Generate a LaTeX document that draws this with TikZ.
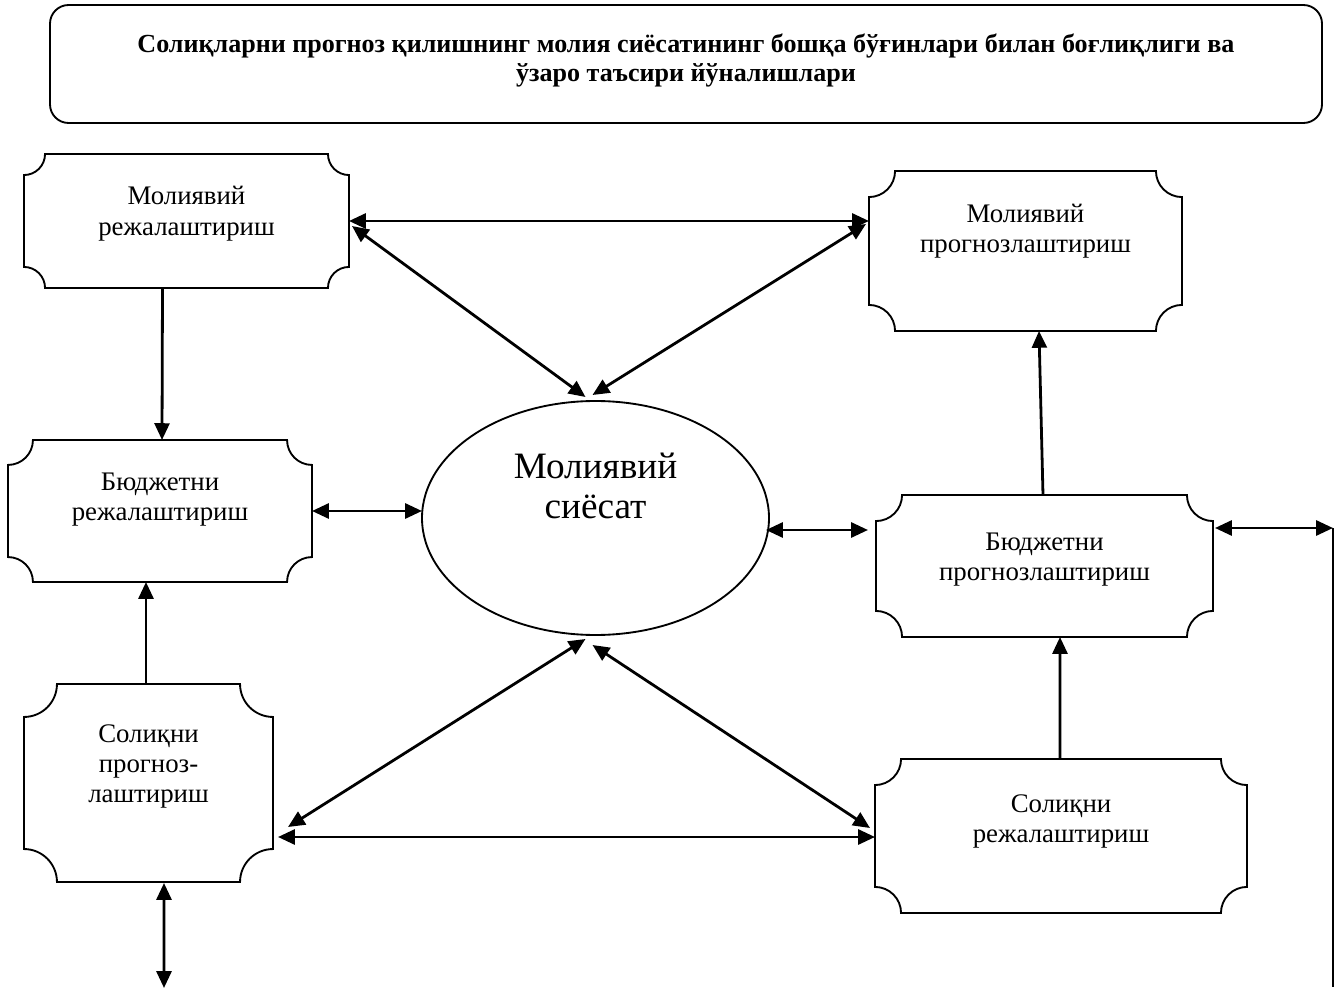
\documentclass[tikz,border=0pt]{standalone}
\usepackage{fontspec}
\setmainfont{Liberation Serif}
\usetikzlibrary{arrows.meta,shapes.geometric,calc}

\tikzset{
	every node/.style={outer sep=0pt},
	plaque/.style n args={3}{rectangle, inner sep=0pt, align=center,
		minimum width=#1*\px, minimum height=#2*\px, text depth=#3,
		font=\fontsize{14.4}{16.2}\selectfont},
	link/.style={line width=1.5pt, {Triangle[length=9pt,width=8pt]}-{Triangle[length=9pt,width=8pt]}},
	feed/.style={line width=1.5pt, -{Triangle[length=9pt,width=8pt]}}
}

\begin{document}
\begin{tikzpicture}[x=.537pt,y=-.537pt]
	\def\px{.537pt}
	\useasboundingbox (0,0) rectangle (1342,991);

	\node[rectangle, draw, line width=1pt, rounded corners=10pt, align=center,
		minimum width=1272*\px, minimum height=118*\px, text depth=6.5pt,
		font=\fontsize{14}{15.6}\selectfont\bfseries] (title) at (686,64)
		{Солиқларни прогноз қилишнинг молия сиёсатининг бошқа бўғинлари билан боғлиқлиги ва\\ўзаро таъсири йўналишлари};

	\node[plaque={325}{134}{11pt}] (mr) at (186.5,221) {Молиявий\\режалаштириш};
	\node[plaque={313}{160}{24pt}] (mp) at (1025.5,251) {Молиявий\\прогнозлаштириш};
	\node[plaque={304}{142}{15pt}] (br) at (160,511) {Бюджетни\\режалаштириш};
	\node[plaque={337}{142}{10pt}] (bp) at (1044.5,566) {Бюджетни\\прогнозлаштириш};
	\node[plaque={249}{198}{21pt}] (sp) at (148.5,783) {Солиқни\\прогноз-\\лаштириш};
	\node[plaque={372}{154}{19pt}] (sr) at (1061,836) {Солиқни\\режалаштириш};

	\node[ellipse, draw, line width=1pt, inner sep=0pt, align=center,
		minimum width=347*\px, minimum height=234*\px, text depth=35pt,
		font=\fontsize{20}{21.5}\selectfont] (ms) at (595.5,518) {Молиявий\\сиёсат};

	% plaque outlines, corners cut inwards
	\foreach \n/\r in {mr/11.3pt, mp/14pt, br/13.4pt, bp/14pt, sp/17.7pt, sr/14pt}{
		\draw[line width=1pt] ([xshift=\r]\n.north west) -- ([xshift=-\r]\n.north east)
			arc[start angle=180, end angle=270, radius=\r] -- ([yshift=\r]\n.south east)
			arc[start angle=90, end angle=180, radius=\r] -- ([xshift=\r]\n.south west)
			arc[start angle=0, end angle=90, radius=\r] -- ([yshift=-\r]\n.north west)
			arc[start angle=270, end angle=360, radius=\r] -- cycle;
	}

	\draw[link] (mr.east) -- (mr.east -| mp.west);
	\draw[link] ($(mr.east)+(3,5)$) -- ($(ms.north)+(-10,-4)$);
	\draw[link] ($(mp.west)+(-3,-27)$) -- ($(ms.north)+(-3,-6)$);
	\draw[feed] ($(mr.south)+(-24,0)$) -- ($(br.north)+(2,0)$);
	\draw[link] (br.east) -- (br.east -| ms.west);
	\draw[link] ($(ms.east)+(-3,12)$) -- ($(bp.west)+(-8,-36)$);
	\draw[feed] ($(bp.north)+(-1.5,0)$) -- ($(mp.south)+(13.5,0)$);
	\draw[feed] ($(sp.north)+(-2.5,0)$) -- ($(br.south)+(-14,0)$);
	\draw[feed] ($(sr.north)+(-1,0)$) -- ($(bp.south)+(15.5,0)$);
	\draw[link] ($(ms.south)+(-10,4)$) -- ($(sp.east)+(15,44)$);
	\draw[link] ($(ms.south)+(-3,10)$) -- ($(sr.west)+(-5,-8)$);
	\draw[link] ($(sp.east)+(5,54)$) -- ($(sr.west)+(0,1)$);

	\coordinate (spfoot) at (164,988);
	\draw[link] ($(sp.south)+(15.5,1)$) -- (spfoot);

	\coordinate (rtop) at (1333,528);
	\coordinate (rfoot) at (1333,987);
	\draw[link] ($(bp.east)+(2,-38)$) -- (rtop);
	\draw[line width=1.5pt] (rtop) -- (rfoot);
\end{tikzpicture}
\end{document}
